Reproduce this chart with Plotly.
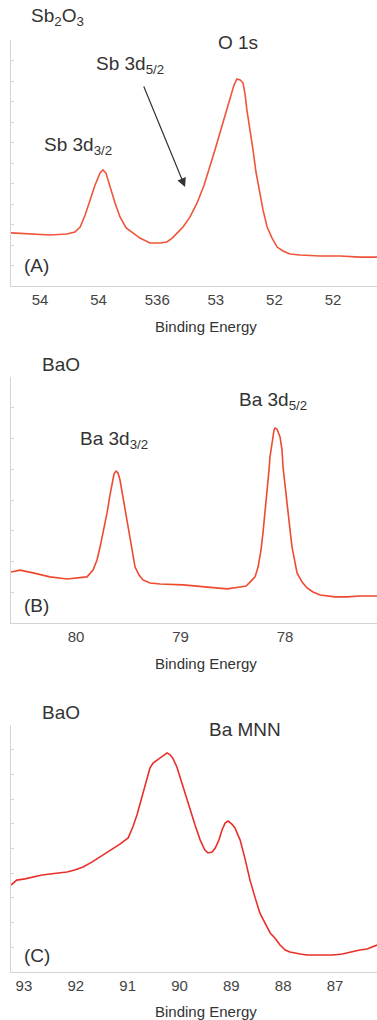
import plotly.graph_objects as go

W, H = 377, 1020

# ---------------- Panel A: Sb2O3 ----------------
a_energy = [540.99, 540.34, 539.66, 539.08, 538.81, 538.63, 538.46, 538.29, 538.12, 537.95,
            537.85, 537.75, 537.61, 537.44, 537.27, 537.06, 536.83, 536.59, 536.25, 535.90,
            535.67, 535.49, 535.29, 535.12, 534.88, 534.64, 534.40, 534.20, 534.03, 533.86,
            533.69, 533.52, 533.38, 533.28, 533.17, 533.07, 533.00, 532.94, 532.83, 532.73,
            532.63, 532.49, 532.39, 532.25, 532.08, 531.91, 531.71, 531.47, 531.13, 530.44,
            529.76, 529.08, 528.50]
a_counts = [2.59, 2.54, 2.49, 2.54, 2.63, 2.88, 3.46, 4.20, 4.93, 5.51,
            5.66, 5.51, 4.83, 4.05, 3.37, 2.83, 2.59, 2.34, 2.10, 2.10,
            2.15, 2.34, 2.63, 2.88, 3.37, 4.05, 4.93, 5.80, 6.63, 7.46,
            8.29, 9.07, 9.80, 10.10, 10.05, 9.90, 9.32, 8.59, 7.61, 6.63,
            5.56, 4.54, 3.71, 2.88, 2.34, 1.90, 1.71, 1.56, 1.51, 1.46,
            1.46, 1.41, 1.41]
a_tickvals = [540, 538, 536, 534, 532, 530]
a_ticktext = ["54", "54", "536", "53", "52", "52"]

# ---------------- Panel B: BaO Ba 3d ----------------
b_energy = [806.22, 805.36, 804.11, 802.49, 800.86, 799.62, 798.95, 798.37, 797.99, 797.70,
            797.32, 797.03, 796.75, 796.56, 796.36, 796.17, 795.98, 795.79, 795.60, 795.31,
            795.02, 794.83, 794.55, 794.35, 793.97, 793.59, 792.92, 791.96, 789.76, 787.46,
            785.55, 784.31, 783.73, 783.35, 782.87, 782.58, 782.30, 782.11, 781.91, 781.72,
            781.53, 781.44, 781.24, 781.05, 780.96, 780.77, 780.48, 780.29, 780.19, 780.00,
            779.81, 779.52, 779.33, 779.04, 778.85, 778.37, 777.89, 777.32, 776.65, 775.22,
            774.07, 772.82, 771.20]
b_counts = [1.66, 1.72, 1.63, 1.50, 1.43, 1.46, 1.50, 1.72, 2.05, 2.47,
            3.09, 3.58, 4.16, 4.55, 4.85, 4.94, 4.88, 4.65, 4.26, 3.77,
            3.19, 2.70, 2.18, 1.82, 1.56, 1.40, 1.30, 1.27, 1.24, 1.17,
            1.11, 1.17, 1.20, 1.33, 1.50, 1.82, 2.37, 2.93, 3.58, 4.23,
            4.98, 5.40, 5.95, 6.28, 6.34, 6.31, 6.05, 5.63, 5.07, 4.42,
            3.77, 3.02, 2.47, 1.98, 1.63, 1.33, 1.14, 1.01, 0.91, 0.85,
            0.85, 0.88, 0.88]
b_tickvals = [800, 790, 780]
b_ticktext = ["80", "79", "78"]

# ---------------- Panel C: BaO Ba MNN ----------------
c_energy = [93.25, 93.14, 92.98, 92.83, 92.65, 92.50, 92.31, 92.17, 92.02, 91.86,
            91.69, 91.53, 91.34, 91.15, 90.99, 90.90, 90.82, 90.76, 90.68, 90.63,
            90.57, 90.51, 90.38, 90.24, 90.18, 90.13, 90.05, 89.99, 89.89, 89.80,
            89.70, 89.60, 89.51, 89.45, 89.37, 89.31, 89.24, 89.18, 89.12, 89.06,
            88.99, 88.93, 88.83, 88.74, 88.64, 88.54, 88.45, 88.35, 88.25, 88.16,
            88.06, 87.96, 87.87, 87.67, 87.54, 87.29, 87.04, 86.86, 86.71, 86.52,
            86.38, 86.19]
c_counts = [3.52, 3.72, 3.77, 3.85, 3.93, 3.97, 4.01, 4.05, 4.13, 4.25,
            4.45, 4.66, 4.94, 5.18, 5.43, 5.87, 6.36, 6.84, 7.49, 7.89,
            8.26, 8.46, 8.66, 8.87, 8.79, 8.66, 8.30, 7.89, 7.25, 6.56,
            5.95, 5.34, 4.94, 4.82, 4.86, 5.02, 5.34, 5.75, 6.03, 6.11,
            5.99, 5.83, 5.34, 4.62, 3.72, 3.00, 2.39, 1.98, 1.58, 1.38,
            1.09, 0.89, 0.81, 0.73, 0.69, 0.69, 0.69, 0.73, 0.81, 0.89,
            0.93, 1.09]
c_tickvals = [93, 92, 91, 90, 89, 88, 87]
c_ticktext = ["93", "92", "91", "90", "89", "88", "87"]

FONT = "Liberation Sans, Arial, Helvetica, sans-serif"
TXT = "#333333"

def px(x):
    return x / W

def py(y):
    return 1 - y / H

fig = go.Figure()
fig.add_trace(go.Scatter(x=a_energy, y=a_counts, mode="lines",
                         line=dict(color="#f0543a", width=1.6), xaxis="x", yaxis="y"))
fig.add_trace(go.Scatter(x=b_energy, y=b_counts, mode="lines",
                         line=dict(color="#ee4a30", width=1.6), xaxis="x2", yaxis="y2"))
fig.add_trace(go.Scatter(x=c_energy, y=c_counts, mode="lines",
                         line=dict(color="#e8302a", width=1.6), xaxis="x3", yaxis="y3"))

xcommon = dict(showline=True, linecolor="#d4d4d4", linewidth=1, showgrid=False, zeroline=False,
               ticks="", tickfont=dict(family=FONT, size=15, color="#444444"), fixedrange=True)
ycommon = dict(showline=True, linecolor="#d4d4d4", linewidth=1, showgrid=False, zeroline=False,
               ticks="inside", ticklen=3, tickcolor="#d4d4d4", showticklabels=False, dtick=1,
               tick0=0, fixedrange=True)

fig.update_layout(
    width=W, height=H, autosize=False,
    margin=dict(l=0, r=0, t=0, b=0),
    paper_bgcolor="white", plot_bgcolor="white",
    showlegend=False,
    xaxis=dict(xcommon, domain=[px(11), 1], range=[540.99, 528.5],
               tickmode="array", tickvals=a_tickvals, ticktext=a_ticktext, anchor="y"),
    yaxis=dict(ycommon, domain=[py(286), py(40)], range=[0, 12], anchor="x"),
    xaxis2=dict(xcommon, domain=[px(11), 1], range=[806.22, 771.2],
                tickmode="array", tickvals=b_tickvals, ticktext=b_ticktext, anchor="y2"),
    yaxis2=dict(ycommon, domain=[py(623), py(377)], range=[0, 8], anchor="x2"),
    xaxis3=dict(xcommon, domain=[px(11), 1], range=[93.25, 86.19],
                tickmode="array", tickvals=c_tickvals, ticktext=c_ticktext, anchor="y3"),
    yaxis3=dict(ycommon, domain=[py(972), py(725)], range=[0, 10], anchor="x3"),
)

def label(text, x, y, size=19, xanchor="center"):
    fig.add_annotation(text=text, x=px(x), y=py(y), xref="paper", yref="paper",
                       showarrow=False, xanchor=xanchor, yanchor="middle",
                       font=dict(family=FONT, size=size, color=TXT))

# Panel A texts
label("Sb<sub>2</sub>O<sub>3</sub>", 29, 17, xanchor="left")
label("O 1s", 238, 43)
label("Sb 3d<sub>5/2</sub>", 94, 65, xanchor="left")
label("Sb 3d<sub>3/2</sub>", 42, 146, xanchor="left")
label("(A)", 22, 266, xanchor="left")
label("Binding Energy", 206, 327, size=15)
fig.add_annotation(x=535.05, y=4.83, ax=536.48, ay=9.8, xref="x", yref="y", axref="x", ayref="y",
                   showarrow=True, arrowhead=2, arrowsize=1.5, arrowwidth=1.2, arrowcolor="#333333",
                   text="")

# Panel B texts
label("BaO", 40, 364, xanchor="left")
label("Ba 3d<sub>3/2</sub>", 78, 440, xanchor="left")
label("Ba 3d<sub>5/2</sub>", 237, 401, xanchor="left")
label("(B)", 22, 605, xanchor="left")
label("Binding Energy", 206, 663, size=15)

# Panel C texts
label("BaO", 40, 712, xanchor="left")
label("Ba MNN", 207, 729, xanchor="left")
label("(C)", 22, 955, xanchor="left")
label("Binding Energy", 206, 1011, size=15)

fig.write_html("out.html", config={"displayModeBar": False, "staticPlot": True},
               post_script="document.body.style.margin='0px';document.body.style.overflow='hidden';")
